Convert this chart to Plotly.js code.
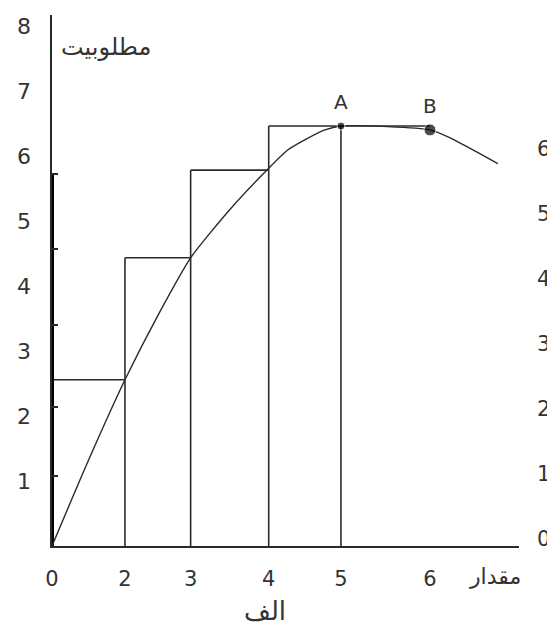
<!DOCTYPE html>
<html><head><meta charset="utf-8">
<script src="https://cdn.plot.ly/plotly-3.0.1.min.js"></script>
<style>html,body{margin:0;padding:0;background:#fff;overflow:hidden}</style>
</head><body><div id="chart" style="width:547px;height:624px"></div>
<script>
// ---- data ----
const xTickLabels = ['0', '2', '3', '4', '5', '6'];
const xTickPos = [0, 1.0, 1.9, 2.97, 3.96, 5.18];      // where each label sits on the drawn axis
const yTickVals = [1, 2, 3, 4, 5, 6, 7, 8];
const rightTickVals = [0, 1, 2, 3, 4, 5, 6];
const stepHeights = [2.56, 4.44, 5.79, 6.47, 6.47];     // intervals 0-2, 2-3, 3-4, 4-5, 5-6
const thickBarTop = 5.73;
const axisMarks = [1.08, 2.14, 3.41, 4.58, 5.73];
const curveX = [0, 0.5, 1.0, 1.45, 1.9, 2.45, 2.97, 3.23, 3.47, 3.74, 3.96, 4.6, 5.18, 5.45, 5.82, 6.11];
const curveY = [0, 1.32, 2.56, 3.55, 4.44, 5.2, 5.82, 6.10, 6.26, 6.41, 6.47, 6.46, 6.41, 6.29, 6.07, 5.89];
const pointNames = ['A', 'B'];
const pointIdx = [4, 5];            // A at label "5", B at label "6"
const pointY = [6.47, 6.41];
const yTitle = 'مطلوبيت';
const xTitleRight = 'مقدار';
const xTitleBelow = 'الف';

// ---- build staircase from the data ----
const stepX = [], stepY = [];
for (let i = 0; i < stepHeights.length; i++) {
  stepX.push(xTickPos[i], xTickPos[i + 1], null);
  stepY.push(stepHeights[i], stepHeights[i], null);
}
for (let i = 1; i < stepHeights.length; i++) {
  stepX.push(xTickPos[i], xTickPos[i], null);
  stepY.push(0, stepHeights[i], null);
}

const FONT = 'DejaVu Sans, sans-serif';
const INK = '#2a2a2a';
const TXT = '#333';

const traces = [
  { x: stepX, y: stepY, mode: 'lines', line: { color: INK, width: 1.6 },
    hoverinfo: 'skip', showlegend: false },
  { x: [0, 0], y: [0, thickBarTop], mode: 'lines', line: { color: '#000', width: 4 },
    hoverinfo: 'skip', showlegend: false },
  { x: curveX, y: curveY, mode: 'lines', line: { color: INK, width: 1.4, shape: 'spline', smoothing: 0.6 },
    hoverinfo: 'skip', showlegend: false },
  { x: pointIdx.map(i => xTickPos[i]), y: pointY, mode: 'markers',
    marker: { color: '#000', size: [8, 12] }, hoverinfo: 'skip', showlegend: false },
  { x: [0], y: [0], yaxis: 'y2', mode: 'markers', marker: { opacity: 0 }, hoverinfo: 'skip', showlegend: false },
  { x: [0], y: [0], yaxis: 'y3', mode: 'markers', marker: { opacity: 0 }, hoverinfo: 'skip', showlegend: false }
];

const YR = [0, 8.18];
const layout = {
  width: 547, height: 624,
  margin: { l: 52, r: 28, t: 15, b: 78 },
  paper_bgcolor: '#fff', plot_bgcolor: '#fff',
  font: { family: FONT, color: TXT, size: 21 },
  xaxis: {
    range: [0, 6.4], showgrid: false, zeroline: false,
    showline: true, linecolor: INK, linewidth: 2,
    tickmode: 'array', tickvals: xTickPos, ticktext: xTickLabels,
    ticks: '', ticklabelstandoff: 13,
    tickfont: { family: FONT, size: 21, color: TXT }
  },
  yaxis: {
    range: YR, showgrid: false, zeroline: false,
    showline: true, linecolor: INK, linewidth: 1.6,
    tickmode: 'array', tickvals: yTickVals, ticks: '', ticklabelstandoff: 15,
    tickfont: { family: FONT, size: 22, color: TXT }
  },
  yaxis2: {
    overlaying: 'y', anchor: 'x', side: 'left', range: YR, showgrid: false, zeroline: false,
    showline: false, tickmode: 'array', tickvals: axisMarks, ticks: 'inside', ticklen: 6,
    tickwidth: 2, tickcolor: INK, showticklabels: false
  },
  yaxis3: {
    overlaying: 'y', anchor: 'free', position: 1, side: 'right',
    range: [YR[0] - 0.12, YR[1] - 0.12], showgrid: false, zeroline: false, showline: false,
    tickmode: 'array', tickvals: rightTickVals, ticks: '', ticklabelstandoff: 17,
    tickfont: { family: FONT, size: 21, color: TXT }
  },
  annotations: [
    { xref: 'paper', yref: 'paper', x: 0.016, y: 0.94, xanchor: 'left', yanchor: 'middle',
      text: yTitle, showarrow: false, font: { family: FONT, size: 24, color: TXT } },
    { xref: 'paper', yref: 'paper', x: 0.949, y: -0.058, xanchor: 'center', yanchor: 'middle',
      text: xTitleRight, showarrow: false, font: { family: FONT, size: 22, color: TXT } },
    { xref: 'paper', yref: 'paper', x: 0.456, y: -0.09, xanchor: 'center', yanchor: 'top',
      text: xTitleBelow, showarrow: false, font: { family: FONT, size: 26, color: TXT } },
    ...pointNames.map((n, k) => ({
      x: xTickPos[pointIdx[k]], y: pointY[k], xref: 'x', yref: 'y', text: n, showarrow: false,
      yshift: 24, font: { family: FONT, size: 20, color: TXT }
    }))
  ]
};

Plotly.newPlot('chart', traces, layout, { displayModeBar: false, staticPlot: true });
</script>
</body></html>
